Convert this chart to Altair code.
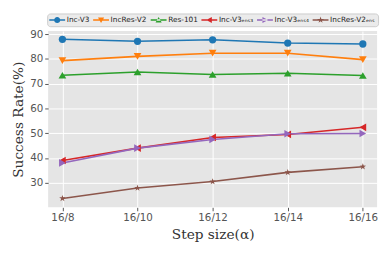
import altair as alt
import pandas as pd

steps = ["16/8", "16/10", "16/12", "16/14", "16/16"]
series = ["Inc-V3", "IncRes-V2", "Res-101", "Inc-V3ₑₙₛ₃", "Inc-V3ₑₙₛ₄", "IncRes-V2ₑₙₛ"]
inc_v3 = [87.9, 87.1, 87.7, 86.4, 86.0]
incres_v2 = [79.3, 81.0, 82.3, 82.3, 79.7]
res_101 = [73.4, 74.7, 73.7, 74.2, 73.3]
inc_v3_ens3 = [39.0, 44.0, 48.3, 49.5, 52.4]
inc_v3_ens4 = [38.0, 44.0, 47.5, 49.8, 49.9]
incres_v2_ens = [23.7, 27.9, 30.5, 34.2, 36.5]
y_ticks = [30, 40, 50, 60, 70, 80, 90]

colors = ["#1f77b4", "#ff7f0e", "#2ca02c", "#d62728", "#9467bd", "#8c564b"]

all_vals = [inc_v3, incres_v2, res_101, inc_v3_ens3, inc_v3_ens4, incres_v2_ens]
rows = []
for s, vals in zip(series, all_vals):
    for st, v in zip(steps, vals):
        rows.append({"series": s, "step": st, "value": v})
df = pd.DataFrame(rows)

STAR = ("M0,-1L0.235,-0.324L0.951,-0.309L0.380,0.124L0.588,0.809L0,0.4L-0.588,0.809"
        "L-0.380,0.124L-0.951,-0.309L-0.235,-0.324Z")
marker_shapes = ["circle", "triangle-down", "triangle-up", "triangle-left", "triangle-right", STAR]
marker_sizes = [55, 62, 62, 62, 62, 48]

LINE = "M-2.7,-0.25H2.7V0.25H-2.7Z"
leg_marks = [
    "M1.05,0A1.05,1.05 0 1,1 -1.05,0A1.05,1.05 0 1,1 1.05,0Z",
    "M-1.05,-0.85L1.05,-0.85L0,1.05Z",
    "M-1.05,0.85L1.05,0.85L0,-1.05Z",
    "M0.85,-1.05L0.85,1.05L-1.05,0Z",
    "M-0.85,-1.05L-0.85,1.05L1.05,0Z",
    "M0,-1.15L0.27,-0.37L1.09,-0.36L0.44,0.14L0.68,0.93L0,0.46L-0.68,0.93"
    "L-0.44,0.14L-1.09,-0.36L-0.27,-0.37Z",
]
leg_paths = [LINE + m for m in leg_marks]

legend = alt.Legend(
    title=None, orient="none", legendX=-1, legendY=-18, direction="horizontal",
    columns=6, labelFont="DejaVu Sans", labelFontSize=7.5, labelColor="#222222",
    symbolSize=36, symbolStrokeWidth=0, symbolOffset=4, labelOffset=6,
    columnPadding=2.8, padding=2.5, fillColor="#EBEBEB", strokeColor="#CCCCCC",
    cornerRadius=3,
)

x = alt.X("step:N", sort=steps, scale=alt.Scale(type="point", padding=0.19),
          axis=alt.Axis(title="Step size(α)", labelAngle=0))
yscale = alt.Scale(domain=[20.1, 91.2], nice=False, zero=False)
yaxis = alt.Axis(title="Success Rate(%)", values=y_ticks)
color = alt.Color("series:N", scale=alt.Scale(domain=series, range=colors), legend=legend)

base = alt.Chart(df)
lines = base.mark_line(strokeWidth=1.6).encode(
    x=x, y=alt.Y("value:Q", scale=yscale, axis=yaxis), color=color)

layers = [lines]
for s, shp, sz in zip(series, marker_shapes, marker_sizes):
    layers.append(
        base.transform_filter(alt.datum.series == s)
        .mark_point(filled=True, shape=shp, size=sz, opacity=1)
        .encode(x=x, y=alt.Y("value:Q", scale=yscale, axis=yaxis), color=color)
    )

leg_layer = base.transform_calculate(ny="null").mark_point(filled=True, opacity=1).encode(
    x=x,
    y=alt.Y("ny:Q", scale=yscale, axis=yaxis),
    color=color,
    shape=alt.Shape("series:N", scale=alt.Scale(domain=series, range=leg_paths), legend=legend),
)
layers.append(leg_layer)

chart = alt.layer(*layers).properties(
    width=336, height=180,
    autosize=alt.AutoSizeParams(type="none"),
    padding={"left": 41, "top": 21, "right": 5, "bottom": 43},
    background="white",
).configure_view(fill="#E5E5E5", stroke=None).configure_axis(
    grid=True, gridColor="white", gridWidth=1, domain=False,
    tickColor="#555555", tickSize=3.5, tickWidth=1,
    labelFont="DejaVu Sans", labelFontSize=10.5, labelColor="#555555", labelPadding=2,
    titleFont="DejaVu Serif", titleFontSize=14, titleFontWeight="normal", titleColor="#333333",
).configure_axisX(titlePadding=5).configure_axisY(titlePadding=4)

chart.save("out.html", embed_options={"renderer": "svg", "actions": False})
